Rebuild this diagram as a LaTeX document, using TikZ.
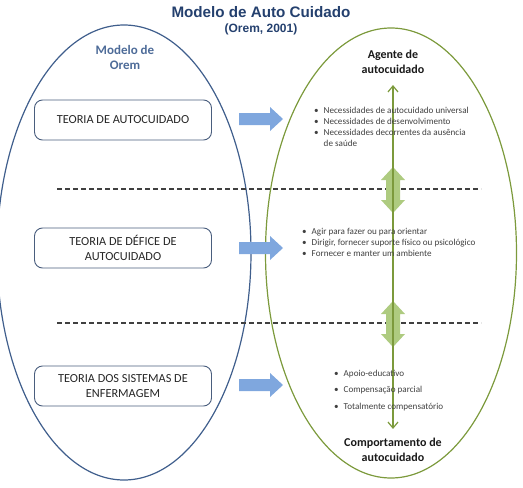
\documentclass[tikz,border=0pt]{standalone}
\usepackage{fontspec}
\setmainfont{Carlito}
\newfontfamily\titlefont{Liberation Sans}
\usetikzlibrary{shapes.geometric,arrows.meta}
\definecolor{navy}{HTML}{24406E}
\definecolor{ellblue}{HTML}{3F5E8C}
\definecolor{oremblue}{HTML}{4D6B98}
\definecolor{ellgreen}{HTML}{7C9A3C}
\definecolor{lightgreen}{HTML}{AECB80}
\definecolor{arrblue}{HTML}{7FA7DE}
\definecolor{boxline}{HTML}{4A5E7E}
\definecolor{bultext}{HTML}{404040}
\tikzset{
  theorybox/.style={draw=boxline, line width=0.9pt, rounded corners=8pt, minimum width=177pt, minimum height=40pt, align=center, font=\fontsize{12.3}{15}\selectfont, text=black!85},
  bullets/.style={inner sep=0pt, anchor=north west, text=bultext},
  headtext/.style={font=\bfseries\fontsize{12}{14.5}\selectfont, align=center, text=black!90},
  divider/.style={dash pattern=on 5pt off 3pt, line width=1.1pt, black!75},
  blockarrow/.pic={\fill[arrblue] (0,-6) -- (31,-6) -- (31,-12) -- (44,0) -- (31,12) -- (31,6) -- (0,6) -- cycle;},
  dblarrow/.pic={\fill[lightgreen] (0,-23) -- (12,-10) -- (7,-10) -- (7,10) -- (12,10) -- (0,23) -- (-12,10) -- (-7,10) -- (-7,-10) -- (-12,-10) -- cycle;}
}
\begin{document}
\begin{tikzpicture}[x=1pt,y=-1pt]
\useasboundingbox (0,0) rectangle (523,488);
% title
\node[font=\titlefont\bfseries\fontsize{15.2}{17}\selectfont, text=navy] (title) at (261,12) {Modelo de Auto Cuidado};
\node[font=\titlefont\bfseries\fontsize{12}{14}\selectfont, text=navy] (cite) at (261,29) {(Orem, 2001)};
% ellipses
\node[draw=ellblue, line width=1.2pt, ellipse, minimum width=254pt, minimum height=455pt, inner sep=0pt] (leftell) at (124,252.5) {};
\node[draw=ellgreen, line width=1.2pt, ellipse, minimum width=251pt, minimum height=450pt, inner sep=0pt] (rightell) at (391,253) {};
% left content
\node[font=\bfseries\fontsize{13}{15}\selectfont, text=oremblue, align=center] (orem) at (125,57) {Modelo de\\Orem};
\node[theorybox] (t1) at (123,120) {TEORIA DE AUTOCUIDADO};
\node[theorybox] (t2) at (123,248) {TEORIA DE DÉFICE DE\\AUTOCUIDADO};
\node[theorybox] (t3) at (123,386) {TEORIA DOS SISTEMAS DE\\ENFERMAGEM};
% dividers
\coordinate (d1a) at (57,189); \coordinate (d1b) at (481,189);
\coordinate (d2a) at (57,323); \coordinate (d2b) at (481,323);
\draw[divider] (d1a) -- (d1b);
\draw[divider] (d2a) -- (d2b);
% blue arrows
\pic at (239,119) {blockarrow};
\pic at (239,248) {blockarrow};
\pic at (239,385) {blockarrow};
% green double arrows
\pic at (393,190) {dblarrow};
\pic at (393,324) {dblarrow};
% right content
\node[headtext] (agente) at (393,62) {Agente de\\autocuidado};
\node[headtext] (comport) at (393,450) {Comportamento de\\autocuidado};
\draw[ellgreen, line width=1.4pt, <->, >={Straight Barb[length=6pt,width=10pt,line width=1.2pt]}, shorten <=8pt, shorten >=6pt] (agente.south) -- (comport.north);
\node[bullets, font=\fontsize{9.1}{11}\selectfont] (b1) at (314,106) {\begin{tabular}{@{}l@{\hspace{5pt}}l@{}}
\textbullet & Necessidades de autocuidado universal\\
\textbullet & Necessidades de desenvolvimento\\
\textbullet & Necessidades decorrentes da ausência\\
 & de saúde\end{tabular}};
\node[bullets, font=\fontsize{9.1}{11}\selectfont] (b2) at (302,227) {\begin{tabular}{@{}l@{\hspace{5pt}}l@{}}
\textbullet & Agir para fazer ou para orientar\\
\textbullet & Dirigir, fornecer suporte físico ou psicológico\\
\textbullet & Fornecer e manter um ambiente\end{tabular}};
\node[bullets, font=\fontsize{9.1}{16.5}\selectfont] (b3) at (334,364.5) {\begin{tabular}{@{}l@{\hspace{5pt}}l@{}}
\textbullet & Apoio-educativo\\
\textbullet & Compensação parcial\\
\textbullet & Totalmente compensatório\end{tabular}};
\end{tikzpicture}
\end{document}
